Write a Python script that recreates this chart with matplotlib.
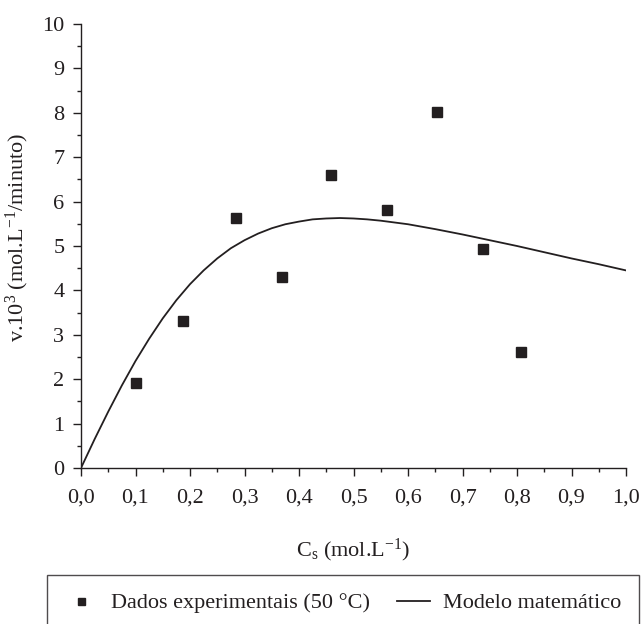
import numpy as np
import matplotlib
matplotlib.use("Agg")
import matplotlib.pyplot as plt
from matplotlib.ticker import MultipleLocator, FuncFormatter

plt.rcParams['font.family'] = ['Liberation Serif', 'DejaVu Serif']
plt.rcParams['mathtext.fontset'] = 'custom'
plt.rcParams['mathtext.rm'] = 'Liberation Serif'
plt.rcParams['mathtext.it'] = 'Liberation Serif'
plt.rcParams['mathtext.default'] = 'regular'

ink = '#231f20'

cs_exp = [0.101, 0.187, 0.284, 0.368, 0.458, 0.561, 0.653, 0.737, 0.808]
v_exp = [1.92, 3.31, 5.62, 4.31, 6.61, 5.80, 8.01, 4.93, 2.61]

# Model curve
cs_mod = [0.0, 0.025, 0.05, 0.075, 0.1, 0.125, 0.15, 0.175, 0.2, 0.225, 0.25, 0.275,
          0.3, 0.325, 0.35, 0.375, 0.4, 0.425, 0.45, 0.475, 0.5, 0.525, 0.55, 0.575,
          0.6, 0.65, 0.7, 0.75, 0.8, 0.85, 0.9, 0.95, 1.0]
v_mod = [0.0, 0.65, 1.27, 1.86, 2.41, 2.91, 3.37, 3.78, 4.14, 4.45, 4.72, 4.95,
         5.13, 5.28, 5.40, 5.49, 5.55, 5.60, 5.62, 5.63, 5.62, 5.60, 5.57, 5.53,
         5.49, 5.38, 5.26, 5.13, 5.00, 4.86, 4.72, 4.59, 4.45]

fig = plt.figure(figsize=(6.41, 6.24), dpi=100)
ax = fig.add_axes([81/641, 1-468/624, (626-81)/641, (468-24)/624])

ax.plot(cs_mod, v_mod, color=ink, lw=1.3, label='Modelo matemático')
ax.plot(cs_exp, v_exp, 's', color=ink, ms=7.2, ls='none',
        label='Dados experimentais (50 °C)')

ax.set_xlim(0, 1.0)
ax.set_ylim(0, 10)
ax.xaxis.set_major_locator(MultipleLocator(0.1))
ax.xaxis.set_minor_locator(MultipleLocator(0.05))
ax.yaxis.set_major_locator(MultipleLocator(1))
ax.yaxis.set_minor_locator(MultipleLocator(0.5))
ax.xaxis.set_major_formatter(FuncFormatter(lambda x, p: f"{x:.1f}".replace('.', ',')))

for s in ['top', 'right']:
    ax.spines[s].set_visible(False)
for s in ['left', 'bottom']:
    ax.spines[s].set_color(ink)
    ax.spines[s].set_linewidth(1.0)

fs = 16
ax.tick_params(which='major', length=6, width=1, color=ink, labelsize=fs, labelcolor=ink)
ax.tick_params(which='minor', length=3, width=1, color=ink)
ax.tick_params(axis='x', pad=9)
ax.tick_params(axis='y', pad=6)

ax.set_ylabel('v.10$^{3}$ (mol.L$^{-1}$/minuto)', fontsize=fs, color=ink)
ax.yaxis.set_label_coords(-0.092, 0.52)
ax.set_xlabel('C$_{s}$ (mol.L$^{-1}$)', fontsize=fs, color=ink)
ax.xaxis.set_label_coords(0.5, -0.155)

h, l = ax.get_legend_handles_labels()
leg = fig.legend(h[::-1], l[::-1], loc='center', bbox_to_anchor=(343/641, 1-603/624),
                 ncol=2, fontsize=fs, frameon=True, fancybox=False,
                 handlelength=1.5, columnspacing=1.2, markerscale=0.7,
                 borderpad=0.8, handletextpad=0.6)
leg.get_frame().set_edgecolor(ink)
leg.get_frame().set_linewidth(1.0)
for t in leg.get_texts():
    t.set_color(ink)

fig.savefig('out.png', dpi=100)
